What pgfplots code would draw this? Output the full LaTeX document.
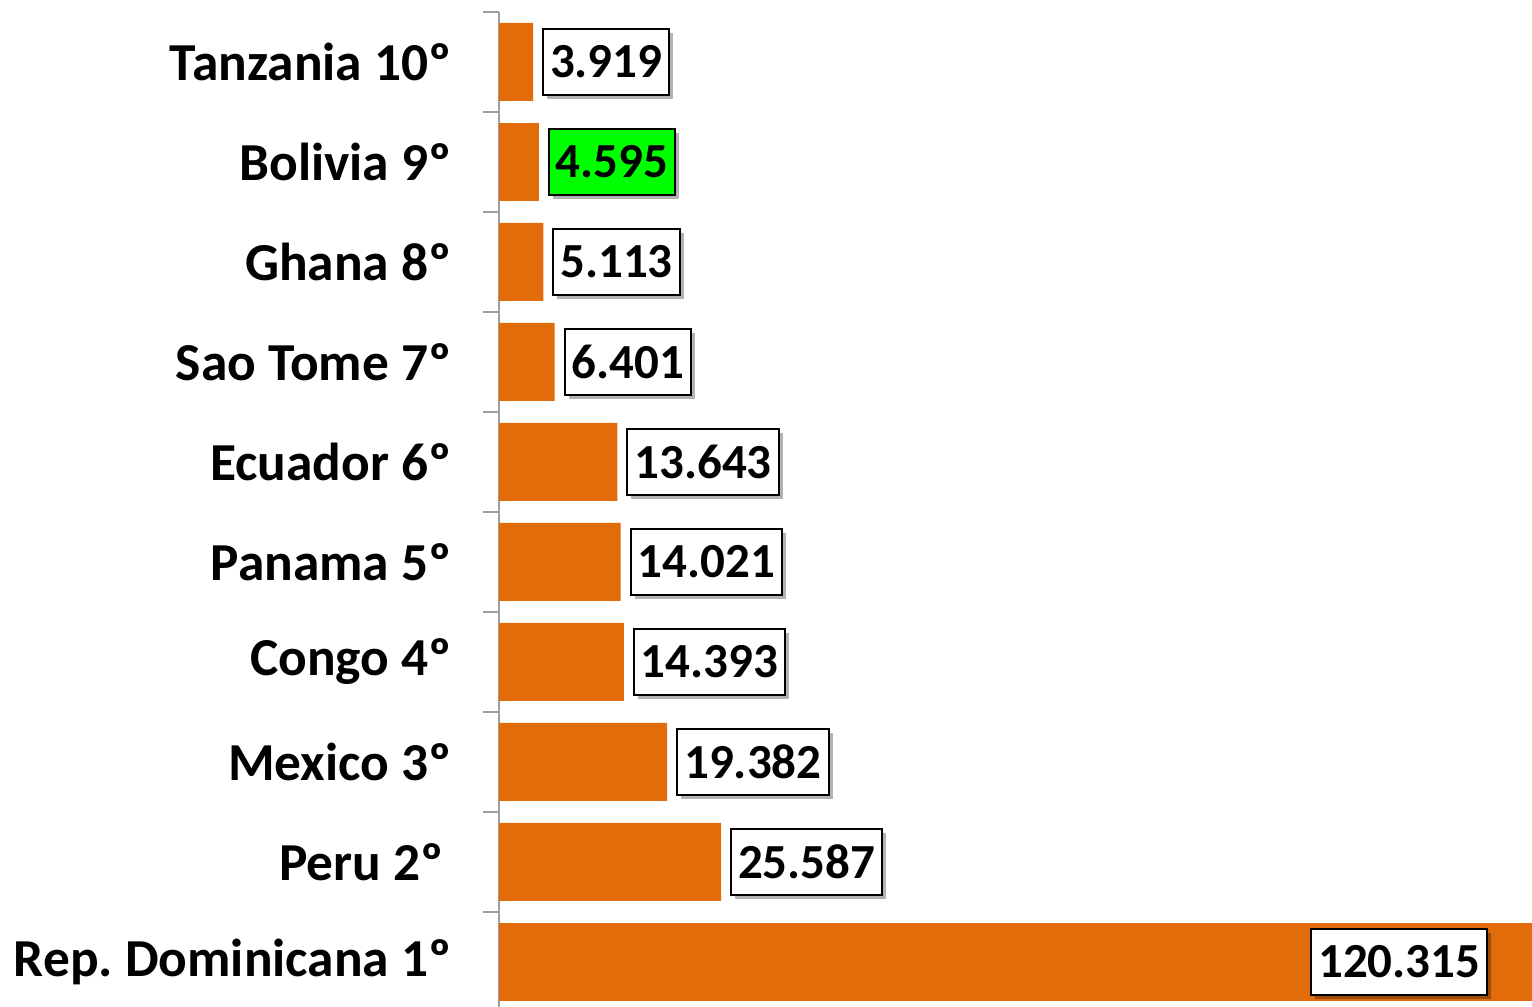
\documentclass[border=0pt]{standalone}
\usepackage{pgfplots}
\pgfplotsset{compat=1.18}
\usepackage{fontspec}
\setmainfont{Carlito}
\usetikzlibrary{shadows}
\definecolor{barorange}{RGB}{227,108,10}
\definecolor{axgray}{RGB}{160,160,160}
\definecolor{lblgreen}{RGB}{0,255,0}
\begin{document}
\begin{tikzpicture}
\begin{axis}[
  at={(249.5pt,-2.5pt)}, anchor=south west,
  scale only axis, width=542.5pt, height=500pt,
  xbar, bar width=0.78, bar shift=0pt,
  xmin=0, xmax=125, ymin=-0.5, ymax=9.5,
  axis x line=none, axis y line*=left,
  y axis line style={draw=axgray, line width=0.75pt},
  ytick={0,...,9},
  yticklabels={Rep.\ Dominicana 1º, {Peru 2º\kern4pt}, Mexico 3º, Congo 4º, Panama 5º, Ecuador 6º, Sao Tome 7º, Ghana 8º, Bolivia 9º, Tanzania 10º},
  major tick length=0pt,
  minor ytick={-0.5,0.5,...,9.5},
  minor tick length=8pt,
  tick align=outside,
  every minor tick/.style={draw=axgray, line width=0.75pt},
  yticklabel style={font=\fontsize{26.7}{29}\selectfont\bfseries, anchor=east, inner sep=0pt, xshift=-23.5pt},
  point meta=explicit symbolic,
  nodes near coords,
  every node near coord/.append style={font=\fontsize{24.5}{28}\selectfont\bfseries, text=black, draw=black, line width=1pt, fill=white, anchor=west, xshift=4.5pt, inner xsep=3.5pt, inner ysep=0pt, minimum height=33pt,
    drop shadow={shadow xshift=2pt, shadow yshift=-2pt, fill=black, opacity=0.3}},
]
\addplot[fill=barorange, draw=none] coordinates {(25.587,1) [25.587] (19.382,2) [19.382] (14.393,3) [14.393] (14.021,4) [14.021] (13.643,5) [13.643] (6.401,6) [6.401] (5.113,7) [5.113] (3.919,9) [3.919]};
\addplot[fill=barorange, draw=none, every node near coord/.append style={fill=lblgreen}] coordinates {(4.595,8) [4.595]};
\addplot[fill=barorange, draw=none, every node near coord/.append style={anchor=east, xshift=-32pt}] coordinates {(120.315,0) [120.315]};
\end{axis}
\pgfresetboundingbox
\useasboundingbox (0,0) rectangle (766pt,503.5pt);
\end{tikzpicture}
\end{document}
